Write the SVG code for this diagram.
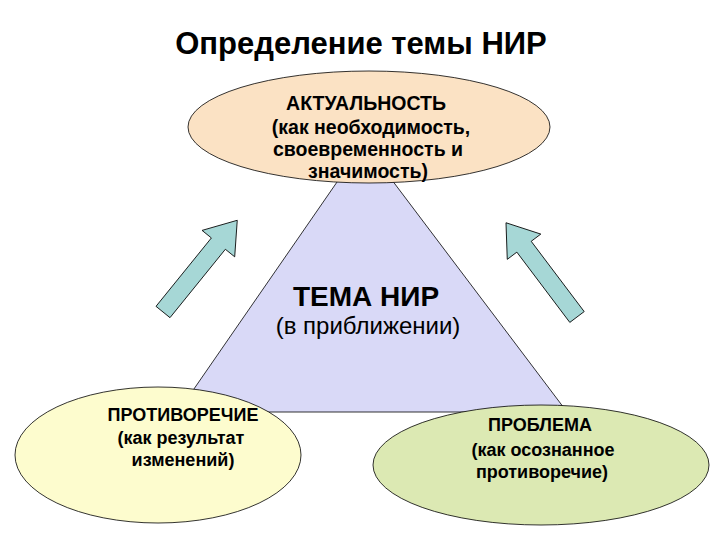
<svg xmlns="http://www.w3.org/2000/svg" width="720" height="540" viewBox="0 0 720 540">
<style>
text{font-family:"Liberation Sans",Arial,sans-serif;fill:#000;text-anchor:middle}
.b{font-weight:bold}
.t{font-weight:bold;font-size:19.5px}
.s{font-weight:bold;font-size:18px}
.shape{stroke:#000;stroke-width:0.8}
.arrow{fill:#A6D7D6;stroke:#000;stroke-width:0.8}
</style>
<defs>
<polygon id="arr" points="0,-9 88,-9 88,-21 118,0 88,21 88,9 0,9"/>
</defs>
<rect width="720" height="540" fill="#fff"/>
<text class="b" x="361" y="54" font-size="31">Определение темы НИР</text>
<g id="tema">
<polygon class="shape" points="364,143 178,412 567,412" fill="#D9D9F7"/>
<text class="b" x="366" y="306" font-size="28">ТЕМА НИР</text>
<text x="368" y="334" font-size="24">(в приближении)</text>
</g>
<g id="aktualnost">
<ellipse class="shape" cx="369" cy="127" rx="181" ry="56" fill="#FBE2C4"/>
<text class="t" x="366" y="110">АКТУАЛЬНОСТЬ</text>
<text class="t" x="371" y="134">(как необходимость,</text>
<text class="t" x="368" y="156">своевременность и</text>
<text class="t" x="368" y="178">значимость)</text>
</g>
<g id="protivorechie">
<ellipse class="shape" cx="158" cy="455" rx="143" ry="68" fill="#FDFCCE"/>
<text class="s" x="183" y="421">ПРОТИВОРЕЧИЕ</text>
<text class="s" x="181" y="444">(как результат</text>
<text class="s" x="183" y="466">изменений)</text>
</g>
<g id="problema">
<ellipse class="shape" cx="541" cy="465" rx="168" ry="60" fill="#DCE9B3"/>
<text class="s" x="540" y="431">ПРОБЛЕМА</text>
<text class="s" x="543" y="456">(как осознанное</text>
<text class="s" x="542" y="478">противоречие)</text>
</g>
<g id="connectors">
<use href="#arr" class="arrow" transform="translate(163,312) rotate(-51)"/>
<use href="#arr" class="arrow" transform="translate(577,317) rotate(-127)"/>
</g>
</svg>
